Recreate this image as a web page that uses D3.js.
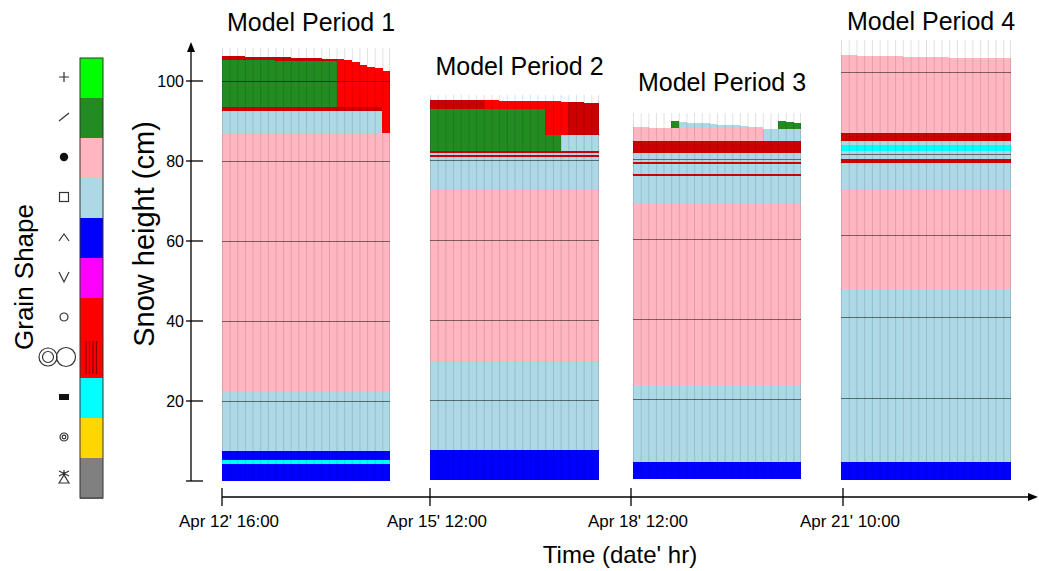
<!DOCTYPE html>
<html>
<head>
<meta charset="utf-8">
<script src="https://cdn.jsdelivr.net/npm/d3@7"></script>
<style>
  body { margin: 0; background: #fff; }
  svg { display: block; font-family: "Liberation Sans", Arial, sans-serif; }
</style>
</head>
<body>
<div id="chart"></div>
<script>
// grain shape classes, in legend order (top to bottom)
const grainCodes = ['PP', 'DF', 'RG', 'FC', 'DH', 'SH', 'MF', 'MFcr', 'IF', 'PPgp', 'MM'];
const grainColors = ['#00ff00', '#228b22', '#ffb6c1', '#add8e6', '#0000ff', '#ff00ff', '#ff0000', '#cc0000', '#00ffff', '#ffd700', '#808080'];

const periodTitles = ['Model Period 1', 'Model Period 2', 'Model Period 3', 'Model Period 4'];
const periodStartLabels = ["Apr 12' 16:00", "Apr 15' 12:00", "Apr 18' 12:00", "Apr 21' 10:00"];
const heightTicks = [0, 20, 40, 60, 80, 100];
const gridValues = [20, 40, 60, 80, 100];

// layers common to every column of a period: [grain, top (cm)]
const p1Base = [['DH', 4.25], ['IF', 5.25], ['DH', 7.5], ['FC', 22.25], ['RG', 87], ['FC', 92.5], ['MFcr', 93.5]];
const p2Base = [['DH', 7.5], ['FC', 29.5], ['RG', 72.5], ['FC', 80.75], ['MFcr', 81.3], ['FC', 81.8], ['MFcr', 82.2]];
const p3Base = [['DH', 4.2], ['FC', 23.5], ['RG', 68.75], ['FC', 75.75], ['MFcr', 76.25], ['FC', 78.75], ['MFcr', 79.3], ['FC', 81.4], ['MFcr', 84.5]];
const p4Base = [['DH', 4.3], ['FC', 46.8], ['RG', 71.1], ['FC', 77.7], ['MFcr', 78.7], ['FC', 80.7], ['IF', 82.2], ['FC', 83.1], ['MFcr', 85.2]];

// where the upper (time varying) layers start, per column (cm)
const p1From = [93.5, 93.5, 93.5, 93.5, 93.5, 93.5, 93.5, 93.5, 93.5, 93.5, 93.5, 93.5, 93.5, 93.5, 93.5, 93.5, 93.5, 93.5, 93.5, 93.5, 93.5, 87];
const p2From = 82.2;
const p3From = 84.5;
const p4From = 85.2;

// upper layers per column: [grain, top (cm)]
const p1Upper = [
  [['DF', 105.3], ['MFcr', 106.3]], [['DF', 105.3], ['MFcr', 106.2]], [['DF', 105.3], ['MFcr', 106.2]],
  [['DF', 105.2], ['MFcr', 106.1]], [['DF', 105.2], ['MFcr', 106.1]], [['DF', 105.2], ['MFcr', 106.0]],
  [['DF', 105.2], ['MFcr', 106.0]], [['DF', 105.1], ['MFcr', 105.9]], [['DF', 105.1], ['MFcr', 105.9]],
  [['DF', 105.1], ['MFcr', 105.8]], [['DF', 105.1], ['MFcr', 105.8]], [['DF', 105.1], ['MFcr', 105.7]],
  [['DF', 105.0], ['MFcr', 105.7]], [['DF', 105.0], ['MFcr', 105.6]], [['DF', 105.0], ['MFcr', 105.6]],
  [['MF', 105.4]], [['MF', 105.2]], [['MF', 104.8]], [['MF', 104.0]], [['MF', 103.6]], [['MF', 103.3]], [['MF', 102.6]]
];
const p2Upper = [
  [['DF', 92.8], ['MFcr', 95.0]], [['DF', 92.8], ['MFcr', 95.0]], [['DF', 92.8], ['MFcr', 95.0]],
  [['DF', 92.8], ['MFcr', 95.0]], [['DF', 92.8], ['MFcr', 94.9]], [['DF', 92.8], ['MFcr', 94.9]],
  [['DF', 92.8], ['MFcr', 94.9]], [['DF', 92.7], ['MF', 94.9]], [['DF', 92.7], ['MF', 94.9]],
  [['DF', 92.7], ['MF', 94.8]], [['DF', 92.7], ['MF', 94.8]], [['DF', 92.7], ['MF', 94.8]],
  [['DF', 92.7], ['MF', 94.8]], [['DF', 92.7], ['MF', 94.8]], [['DF', 92.7], ['MF', 94.7]],
  [['DF', 86.25], ['MF', 94.7]], [['DF', 86.25], ['MF', 94.7]], [['FC', 86.25], ['MF', 94.6]],
  [['FC', 86.25], ['MFcr', 94.5]], [['FC', 86.25], ['MFcr', 94.4]], [['FC', 86.25], ['MFcr', 94.3]], [['FC', 86.25], ['MFcr', 94.3]]
];
const p3Upper = [
  [['RG', 87.9]], [['RG', 87.9]], [['RG', 87.8]], [['RG', 87.8]], [['RG', 87.8]],
  [['RG', 87.8], ['DF', 89.5]], [['RG', 87.8], ['FC', 89.3]], [['RG', 87.8], ['FC', 89.1]],
  [['RG', 87.8], ['FC', 89.0]], [['RG', 87.8], ['FC', 88.9]], [['RG', 87.8], ['FC', 88.8]],
  [['RG', 87.8], ['FC', 88.6]], [['RG', 87.8], ['FC', 88.5]], [['RG', 87.8], ['FC', 88.4]],
  [['RG', 87.8], ['FC', 88.3]], [['RG', 87.8], ['FC', 88.1]], [['RG', 87.8], ['FC', 88.0]],
  [['FC', 87.5]], [['FC', 87.5]], [['FC', 87.5], ['DF', 89.4]], [['FC', 87.5], ['DF', 89.3]], [['FC', 87.5], ['DF', 89.1]]
];
const p4Tops = [104.2, 104.2, 104.0, 104.0, 104.0, 104.0, 103.9, 103.9, 103.8, 103.8, 103.8,
                103.7, 103.7, 103.7, 103.6, 103.6, 103.6, 103.5, 103.5, 103.4, 103.4, 103.4];
const p4Upper = p4Tops.map(t => [['RG', t]]);

// the faint column lines reach up to this height (cm)
const colLineTops = [108.3, 96.3, 91.5, 108];

// layout of each model period panel (pixels)
const panels = [
  { x0: 222, x1: 390, y0: 481, y100: 81, titleY: 31 },
  { x0: 430, x1: 599, y0: 480, y100: 80, titleY: 75 },
  { x0: 633, x1: 801, y0: 479, y100: 79, titleY: 91 },
  { x0: 841, x1: 1011, y0: 479.8, y100: 72.3, titleY: 30 }
];
const periods = [
  { base: p1Base, from: p1From, upper: p1Upper },
  { base: p2Base, from: p2From, upper: p2Upper },
  { base: p3Base, from: p3From, upper: p3Upper },
  { base: p4Base, from: p4From, upper: p4Upper }
];

const width = 1039, height = 571;
const color = d3.scaleOrdinal().domain(grainCodes).range(grainColors);

const svg = d3.select('#chart').append('svg')
  .attr('width', width)
  .attr('height', height);

// ---- model period panels ----
periods.forEach((p, pi) => {
  const lay = panels[pi];
  const nCols = p.upper.length;
  const x = d3.scaleBand().domain(d3.range(nCols)).range([lay.x0, lay.x1]);
  const y = d3.scaleLinear().domain([0, 100]).range([lay.y0, lay.y100]);
  const g = svg.append('g').attr('class', 'period');

  // flatten each column into [bottom, top, grain] cells
  const cells = [];
  d3.range(nCols).forEach(c => {
    let bottom = 0;
    const start = Array.isArray(p.from) ? p.from[c] : p.from;
    p.base.forEach(([grain, top]) => {
      if (bottom < start) cells.push({ c, bottom, top: Math.min(top, start), grain });
      bottom = top;
    });
    bottom = start;
    p.upper[c].forEach(([grain, top]) => {
      cells.push({ c, bottom, top, grain });
      bottom = top;
    });
  });

  g.selectAll('rect.cell')
    .data(cells)
    .enter()
    .append('rect')
    .attr('class', 'cell')
    .attr('x', d => x(d.c))
    .attr('width', x.bandwidth() + 0.3)
    .attr('y', d => y(d.top))
    .attr('height', d => y(d.bottom) - y(d.top))
    .attr('fill', d => color(d.grain))
    .attr('shape-rendering', 'crispEdges');

  // column separators, running faintly above the snow surface
  g.selectAll('line.col')
    .data(d3.range(nCols + 1))
    .enter()
    .append('line')
    .attr('x1', c => c < nCols ? x(c) + 0.5 : lay.x1 - 0.5)
    .attr('x2', c => c < nCols ? x(c) + 0.5 : lay.x1 - 0.5)
    .attr('y1', y(colLineTops[pi]))
    .attr('y2', y(0))
    .attr('stroke', 'rgba(0,0,0,0.12)')
    .attr('stroke-width', 1);

  // height grid lines, only inside the snowpack
  const minTop = d3.min(p.upper, col => col[col.length - 1][1]);
  g.selectAll('line.grid')
    .data(gridValues.filter(v => v < minTop))
    .enter()
    .append('line')
    .attr('x1', lay.x0)
    .attr('x2', lay.x1)
    .attr('y1', v => Math.round(y(v)) + 0.5)
    .attr('y2', v => Math.round(y(v)) + 0.5)
    .attr('stroke', 'rgba(0,0,0,0.5)')
    .attr('stroke-width', 1);

  g.append('text')
    .attr('x', (lay.x0 + lay.x1) / 2 + 5)
    .attr('y', lay.titleY)
    .attr('text-anchor', 'middle')
    .style('font-size', '25px')
    .attr('fill', '#000')
    .text(periodTitles[pi]);
});

// ---- y axis ----
const yAxisScale = d3.scaleLinear().domain([0, 100]).range([481, 81]);
const yAxis = svg.append('g').attr('class', 'y-axis');
yAxis.append('line')
  .attr('x1', 191).attr('x2', 191)
  .attr('y1', yAxisScale(0)).attr('y2', 50)
  .attr('stroke', '#000').attr('stroke-width', 1.3);
yAxis.append('path')
  .attr('d', 'M191,42 L187,52 L195,52 Z')
  .attr('fill', '#000');
yAxis.selectAll('line.tick')
  .data(heightTicks)
  .enter()
  .append('line')
  .attr('x1', 186).attr('x2', 203)
  .attr('y1', d => yAxisScale(d)).attr('y2', d => yAxisScale(d))
  .attr('stroke', '#000').attr('stroke-width', 1.3);
yAxis.selectAll('text.tick')
  .data(heightTicks.filter(d => d > 0))
  .enter()
  .append('text')
  .attr('x', 184)
  .attr('y', d => yAxisScale(d))
  .attr('dy', '0.36em')
  .attr('text-anchor', 'end')
  .style('font-size', '16px')
  .text(d => d);

svg.append('text')
  .attr('transform', 'translate(154,234) rotate(-90)')
  .attr('text-anchor', 'middle')
  .style('font-size', '29px')
  .text('Snow height (cm)');

// ---- x axis ----
const xAxisScale = d3.scaleOrdinal().domain(periodStartLabels).range([222, 430, 631, 843]);
const xAxisY = 497;
const xAxis = svg.append('g').attr('class', 'x-axis');
xAxis.append('line')
  .attr('x1', 222).attr('x2', 1030)
  .attr('y1', xAxisY).attr('y2', xAxisY)
  .attr('stroke', '#000').attr('stroke-width', 1.3);
xAxis.append('path')
  .attr('d', `M1038,${xAxisY} L1028,${xAxisY - 4} L1028,${xAxisY + 4} Z`)
  .attr('fill', '#000');
xAxis.selectAll('line.tick')
  .data(periodStartLabels)
  .enter()
  .append('line')
  .attr('x1', d => xAxisScale(d)).attr('x2', d => xAxisScale(d))
  .attr('y1', xAxisY - 9).attr('y2', xAxisY + 9)
  .attr('stroke', '#000').attr('stroke-width', 1.3);
xAxis.selectAll('text.tick')
  .data(periodStartLabels)
  .enter()
  .append('text')
  .attr('x', d => xAxisScale(d) + 7)
  .attr('y', 527)
  .attr('text-anchor', 'middle')
  .style('font-size', '17px')
  .attr('textLength', 100)
  .text(d => d);

svg.append('text')
  .attr('x', 620)
  .attr('y', 563)
  .attr('text-anchor', 'middle')
  .style('font-size', '24px')
  .text("Time (date' hr)");

// ---- grain shape legend ----
const legendY = d3.scaleBand().domain(grainCodes).range([58, 498]);
const legend = svg.append('g').attr('class', 'legend');
legend.selectAll('rect.swatch')
  .data(grainCodes)
  .enter()
  .append('rect')
  .attr('x', 80)
  .attr('y', d => legendY(d))
  .attr('width', 23)
  .attr('height', legendY.bandwidth() + 0.5)
  .attr('fill', d => d === 'MFcr' ? color('MF') : color(d))
  .attr('shape-rendering', 'crispEdges');
// stripes of the melt-freeze crust swatch
legend.selectAll('line.stripe')
  .data([86, 89.5, 93, 96.5])
  .enter()
  .append('line')
  .attr('x1', d => d).attr('x2', d => d)
  .attr('y1', legendY('MFcr') + 3).attr('y2', legendY('MFcr') + 36)
  .attr('stroke', '#8b0000').attr('stroke-width', 1.2);
legend.append('rect')
  .attr('x', 80).attr('y', 58)
  .attr('width', 23).attr('height', 440)
  .attr('fill', 'none').attr('stroke', '#333').attr('stroke-width', 1);

const symColor = '#333';
grainCodes.forEach(code => {
  const cy = legendY(code) + legendY.bandwidth() / 2 - 1;
  const cx = 64;
  const s = legend.append('g').attr('transform', `translate(${cx},${cy})`)
    .attr('stroke', symColor).attr('fill', 'none').attr('stroke-width', 1.2);
  if (code === 'PP') s.append('path').attr('d', 'M-5,0 H5 M0,-5 V5');
  if (code === 'DF') s.append('path').attr('d', 'M-5,4 L5,-4');
  if (code === 'RG') s.append('circle').attr('r', 4.2).attr('fill', '#111').attr('stroke', 'none');
  if (code === 'FC') s.append('rect').attr('x', -4.5).attr('y', -4.5).attr('width', 9).attr('height', 9);
  if (code === 'DH') s.append('path').attr('d', 'M-5,4 L0,-3 L5,4');
  if (code === 'SH') s.append('path').attr('d', 'M-5,-5 L0,5 L5,-5');
  if (code === 'MF') s.append('circle').attr('r', 4);
  if (code === 'MFcr') {
    s.append('circle').attr('cx', -16).attr('r', 9);
    s.append('circle').attr('cx', -16).attr('r', 5.5);
    s.append('circle').attr('cx', 2).attr('r', 9.5);
  }
  if (code === 'IF') s.append('rect').attr('x', -5).attr('y', -3).attr('width', 10).attr('height', 6).attr('fill', '#111').attr('stroke', 'none');
  if (code === 'PPgp') {
    s.append('circle').attr('r', 4);
    s.append('circle').attr('r', 1.8);
  }
  if (code === 'MM') {
    s.append('path').attr('d', 'M-5,6 L0,-2 L5,6 Z M-5,-6 L5,-1 M5,-6 L-5,-1 M0,-7 V-2');
  }
});

svg.append('text')
  .attr('transform', 'translate(33,277) rotate(-90)')
  .attr('text-anchor', 'middle')
  .style('font-size', '26px')
  .text('Grain Shape');
</script>
</body>
</html>
